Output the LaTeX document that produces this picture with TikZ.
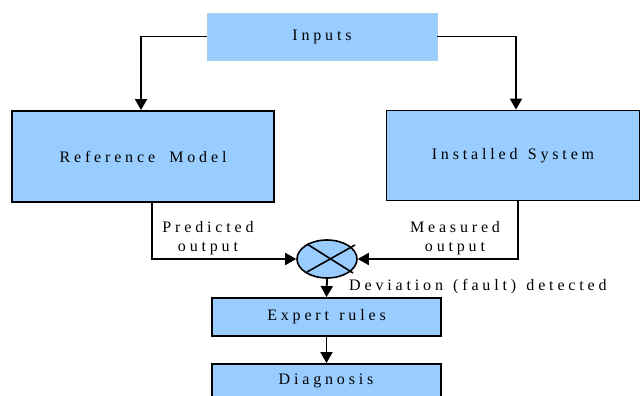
\documentclass[tikz,border=0pt]{standalone}
\usepackage{fontspec}
\setmainfont{Liberation Serif}[LetterSpace=24,WordSpace=1.3]
\usetikzlibrary{arrows.meta,shapes.geometric,calc}
\definecolor{boxblue}{HTML}{99CCFF}
\definecolor{boxedge}{HTML}{A9CDEB}
\tikzset{
  blockbox/.style={draw=black,line width=1.8pt,fill=boxblue,inner sep=0pt,font=\fontsize{16}{18}\selectfont},
  flow/.style={line width=1.8pt,-{Triangle[length=11pt,width=12pt]}},
  lbl/.style={inner sep=0pt,font=\fontsize{16}{19}\selectfont,align=center},
}
\begin{document}
\begin{tikzpicture}[x=1pt,y=-1pt]
  \useasboundingbox (0,0) rectangle (641,396);
  \clip (0,0) rectangle (641,396);

  % blocks
  \node[blockbox,draw=boxedge,line width=0.6pt,minimum width=230pt,minimum height=47pt] (inputs) at (322,36.5) {Inputs};
  \node[blockbox,minimum width=262pt,minimum height=91pt] (refmodel) at (143,156.5) {Reference\hspace{4pt} Model};
  \node[blockbox,minimum width=253pt,minimum height=90pt] (installed) at (513,155.5) {Installed System};
  \node[blockbox,minimum width=229pt,minimum height=38pt] (rules) at (326.5,317) {Expert rules};
  \node[blockbox,minimum width=229pt,minimum height=48pt] (diagnosis) at (326.5,388) {};
  \node[lbl,font=\fontsize{16}{18}\selectfont] (diagtext) at (326,381) {Diagnosis};

  % comparator
  \node[ellipse,draw=black,line width=1.6pt,fill=boxblue,minimum width=60pt,minimum height=38pt,inner sep=0pt] (cmp) at (327,259) {};
  \draw[line width=1.6pt] ($(cmp.center)+(-20,-15)$) -- ($(cmp.center)+(26,14)$);
  \draw[line width=1.6pt] ($(cmp.center)+(-20,13)$) -- ($(cmp.center)+(28,-14)$);

  % connectors
  \draw[flow] (inputs.west) -| ([xshift=-2pt]refmodel.north);
  \draw[flow] (inputs.east) -| ([xshift=3pt]installed.north);
  \draw[flow] ([xshift=9pt]refmodel.south) |- (cmp.west);
  \draw[flow] ([xshift=5pt]installed.south) |- (cmp.east);
  \draw[flow] (cmp.south) -- (rules.north);
  \draw[flow] (rules.south) -- (diagnosis.north);

  % labels
  \node[lbl] (predlbl) at (208,238) {Predicted\\output};
  \node[lbl] (measlbl) at (455,238) {Measured\\output};
  \node[lbl,anchor=west] (devlbl) at (349,287) {Deviation (fault) detected};
\end{tikzpicture}
\end{document}
